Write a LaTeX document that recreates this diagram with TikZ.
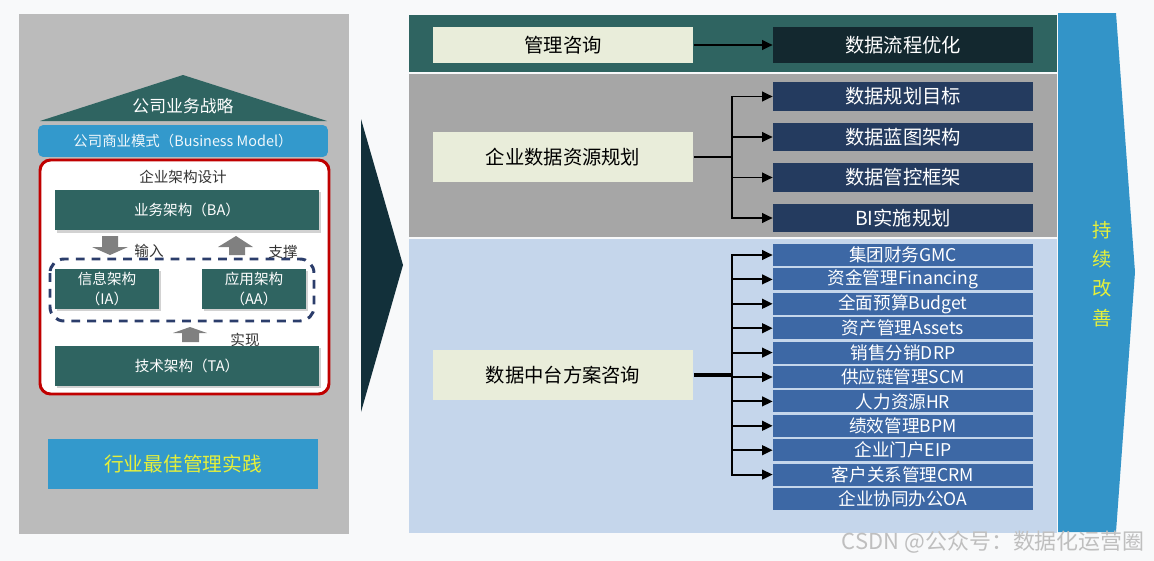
\documentclass[tikz,border=0pt]{standalone}
\usepackage{fontspec}
\setmainfont{Noto Sans CJK SC}
\usetikzlibrary{arrows.meta,shadows}

\definecolor{bgwhite}{HTML}{F8F9FA}
\definecolor{panelgray}{HTML}{BBBBBB}
\definecolor{archteal}{HTML}{2F6461}
\definecolor{modelblue}{HTML}{3399CC}
\definecolor{framered}{HTML}{C00000}
\definecolor{dashnavy}{HTML}{2B3D6B}
\definecolor{arrowgray}{HTML}{808080}
\definecolor{chevron}{HTML}{12303A}
\definecolor{bandgray}{HTML}{A6A6A6}
\definecolor{bandblue}{HTML}{C5D6EB}
\definecolor{paleleaf}{HTML}{E9EDDA}
\definecolor{deepteal}{HTML}{13282F}
\definecolor{planblue}{HTML}{243B5F}
\definecolor{itemblue}{HTML}{3D68A5}
\definecolor{loopblue}{HTML}{3394C8}
\definecolor{hiyellow}{HTML}{E6F03A}

\begin{document}
\begin{tikzpicture}[x=0.02cm,y=-0.02cm,
  archbox/.style={fill=archteal,text=white,minimum height=0.8cm,inner sep=0pt,
    drop shadow={opacity=0.35,shadow xshift=1.2pt,shadow yshift=-1.2pt},
    font=\fontsize{8.3}{10}\selectfont},
  leftbox/.style={fill=paleleaf,minimum width=5.22cm,inner sep=0pt,font=\fontsize{11}{13}\selectfont},
  planbox/.style={fill=planblue,text=white,minimum width=5.2cm,minimum height=0.58cm,inner sep=0pt,font=\fontsize{11}{12}\selectfont},
  itembox/.style={fill=itemblue,text=white,minimum width=5.2cm,minimum height=0.44cm,inner sep=0pt,font=\fontsize{10}{11}\selectfont},
  tag/.style={text=black!80,font=\fontsize{8.3}{10}\selectfont},
  link/.style={line width=1.1pt,-{Triangle[length=6pt,width=5.5pt]}}
]
  \useasboundingbox[fill=bgwhite] (0,0) rectangle (1154,561);

  % left panel: enterprise architecture
  \fill[panelgray] (19,14) rectangle (349,534);
  \fill[archteal] (40,121) -- (183,75) -- (327,121) -- cycle;
  \node[text=white,font=\fontsize{9.6}{11}\selectfont] (strategy) at (183,106) {公司业务战略};
  \node[fill=modelblue,rounded corners=3pt,text=white!92!modelblue,minimum width=5.8cm,
    minimum height=0.64cm,font=\fontsize{8.2}{10}\selectfont] (model) at (183,141) {公司商业模式（Business Model）};
  \draw[framered,line width=1.7pt,fill=white,rounded corners=6pt] (40,160) rectangle (329,394);
  \node[tag] (design) at (183,177) {企业架构设计};
  \node[archbox,minimum width=5.28cm,minimum height=0.82cm] (ba) at (187,210) {业务架构（BA）};
  \fill[arrowgray] (102,236) -- (118,236) -- (118,247) -- (128,247) -- (110,255) -- (92,247) -- (102,247) -- cycle;
  \fill[arrowgray] (229,255) -- (245,255) -- (245,247) -- (253,247) -- (236,236) -- (218,247) -- (229,247) -- cycle;
  \node[tag] (input) at (149,251) {输入};
  \node[tag] (support) at (283,252) {支撑};
  \draw[dashnavy,line width=1.7pt,dash pattern=on 5pt off 4pt,rounded corners=8pt] (50,259) rectangle (314,321);
  \node[archbox,minimum width=2.08cm,align=center,font=\fontsize{8.3}{11}\selectfont] (ia) at (107,289) {信息架构\\（IA）};
  \node[archbox,minimum width=2.08cm,align=center,font=\fontsize{8.3}{11}\selectfont] (aa) at (254,289) {应用架构\\（AA）};
  \fill[arrowgray] (182,342) -- (199,342) -- (199,333) -- (207,333) -- (190,327) -- (173,333) -- (182,333) -- cycle;
  \node[tag] (realize) at (245,340) {实现};
  \node[archbox,minimum width=5.28cm] (ta) at (187,366) {技术架构（TA）};
  \node[fill=modelblue,text=hiyellow,minimum width=5.4cm,minimum height=1cm,
    font=\fontsize{11.2}{13}\selectfont] (practice) at (183,464) {行业最佳管理实践};

  \fill[chevron] (361,119) -- (403,265) -- (361,412) -- cycle;

  % right panel: bands
  \fill[archteal] (409,15) rectangle (1057,72);
  \fill[bandgray] (409,74) rectangle (1057,237);
  \fill[bandblue] (409,239) rectangle (1057,533);
  \fill[loopblue] (1058,13) -- (1116,13) -- (1135,272) -- (1116,532) -- (1058,532) -- cycle;
  \node[text=hiyellow,align=center,font=\fontsize{11}{16.6}\selectfont] (improve) at (1102,274) {持\\续\\改\\善};

  % management consulting
  \node[leftbox,minimum height=0.72cm] (consult) at (563,45) {管理咨询};
  \node[fill=deepteal,text=white,minimum width=5.2cm,minimum height=0.72cm,
    font=\fontsize{11}{13}\selectfont] (flow) at (903,45) {数据流程优化};
  \draw[link] (consult) -- (flow);

  % data resource planning
  \node[leftbox,minimum height=1cm] (plan) at (563,157) {企业数据资源规划};
  \foreach \t [count=\i] in {数据规划目标,数据蓝图架构,数据管控框架,BI实施规划}
    \node[planbox] (p\i) at (903,{56+40.5*\i}) {\t};
  \coordinate (pj) at (732,157);
  \draw[line width=1.6pt] (plan) -- (pj);
  \foreach \i in {1,...,4}
    \draw[link] (pj) |- (p\i.west);

  % data middle platform
  \node[leftbox,minimum height=1cm] (hub) at (563,375) {数据中台方案咨询};
  \foreach \t [count=\i from 0] in {集团财务GMC,资金管理Financing,全面预算Budget,资产管理Assets,
      销售分销DRP,供应链管理SCM,人力资源HR,绩效管理BPM,企业门户EIP,客户关系管理CRM,企业协同办公OA}
    \node[itembox] (h\i) at (903,{255+24.4*\i}) {\t};
  \coordinate (hj) at (732,375);
  \draw[line width=2pt] (hub) -- (hj);
  \foreach \i in {0,...,9}
    \draw[link] (hj) |- (h\i.west);

  \node[text=gray!50,font=\fontsize{12.5}{14}\selectfont,anchor=east] (mark) at (1151,542) {CSDN @公众号：数据化运营圈};
\end{tikzpicture}
\end{document}
